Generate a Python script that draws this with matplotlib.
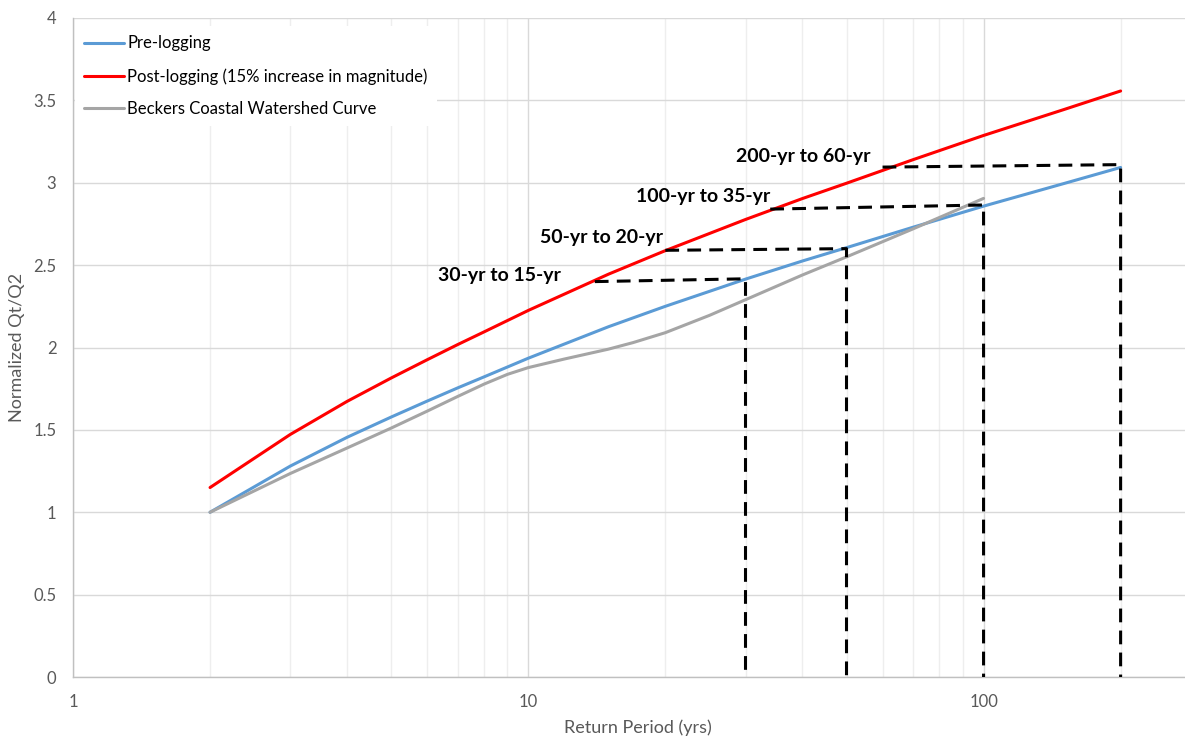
import numpy as np
import matplotlib.pyplot as plt
from matplotlib.ticker import FixedLocator, NullFormatter

plt.rcParams.update({
    'font.family': ['Lato', 'DejaVu Sans'],
    'font.size': 12,
})

# return periods (yrs)
periods = [2, 3, 4, 5, 6, 7, 8, 10, 15, 20, 30, 40, 50, 70, 100, 150, 200]
pre_logging = [1.00, 1.28, 1.455, 1.578, 1.675, 1.755, 1.822, 1.935, 2.126,
               2.25, 2.415, 2.525, 2.606, 2.73, 2.858, 2.995, 3.093]
post_logging = [1.15, 1.472, 1.673, 1.815, 1.926, 2.018, 2.095, 2.225, 2.445,
                2.588, 2.777, 2.904, 2.997, 3.14, 3.287, 3.444, 3.557]

beckers_periods = [2, 3, 4, 5, 6, 7, 8, 9, 10, 12, 15, 17, 20, 25, 30, 40, 50, 70, 100]
beckers = [1.00, 1.235, 1.39, 1.511, 1.614, 1.703, 1.778, 1.837, 1.878, 1.93,
           1.99, 2.03, 2.09, 2.195, 2.29, 2.44, 2.55, 2.72, 2.905]

# dashed guide lines: post-logging period -> pre-logging period, down to zero
guide_labels = ['30-yr to 15-yr', '50-yr to 20-yr', '100-yr to 35-yr', '200-yr to 60-yr']
guide_x = [[14, 30, 30], [20, 50, 50], [34, 100, 100], [60, 200, 200]]
guide_y = [[2.40, 2.417, 0], [2.59, 2.60, 0], [2.84, 2.865, 0], [3.095, 3.11, 0]]
label_x = [11.8, 19.8, 34.0, 56.5]
label_y = [2.435, 2.67, 2.915, 3.162]

grey_text = '#595959'

fig = plt.figure(figsize=(11.85, 7.4), dpi=100)
ax = fig.add_axes([73 / 1185, 63 / 740, 1130 / 1185, 659 / 740])

line_kw = dict(lw=2.2, solid_joinstyle='round', solid_capstyle='round', zorder=3)
ax.plot(periods, pre_logging, color='#5B9BD5', label='Pre-logging', **line_kw)
ax.plot(periods, post_logging, color='#FF0000',
        label='Post-logging (15% increase in magnitude)', **line_kw)
ax.plot(beckers_periods, beckers, color='#A5A5A5',
        label='Beckers Coastal Watershed Curve', **line_kw)

for gx, gy in zip(guide_x, guide_y):
    ax.plot(gx, gy, color='black', lw=2.2, dashes=(4.5, 2.7), zorder=4)
for txt, tx, ty in zip(guide_labels, label_x, label_y):
    ax.text(tx, ty, txt, ha='right', va='center', fontsize=14,
            fontweight='bold', color='black', zorder=5)

ax.set_xscale('log')
ax.set_xlim(1, 10 ** 2.482)
ax.set_ylim(0, 4)
ax.set_yticks(np.arange(0, 4.01, 0.5))
ax.set_yticklabels(['0', '0.5', '1', '1.5', '2', '2.5', '3', '3.5', '4'])
ax.xaxis.set_major_locator(FixedLocator([1, 10, 100]))
ax.set_xticklabels(['1', '10', '100'])
minor = [m * d for d in (1, 10, 100) for m in range(2, 10)]
ax.xaxis.set_minor_locator(FixedLocator(minor))
ax.xaxis.set_minor_formatter(NullFormatter())

ax.grid(True, which='major', color='#d9d9d9', lw=1.0, zorder=0)
ax.grid(True, which='minor', axis='x', color='#eeeeee', lw=1.0, zorder=0)
ax.set_axisbelow(True)

ax.tick_params(which='both', length=0, colors=grey_text, labelsize=12)
ax.tick_params(axis='y', pad=12)
ax.tick_params(axis='x', pad=12)
for side in ('top', 'right'):
    ax.spines[side].set_visible(False)
for side in ('left', 'bottom'):
    ax.spines[side].set_color('#c0c0c0')
    ax.spines[side].set_linewidth(1.0)

ax.set_xlabel('Return Period (yrs)', color=grey_text, fontsize=13, labelpad=7)
ax.set_ylabel('Normalized Qt/Q2', color=grey_text, fontsize=13, labelpad=6)

leg = ax.legend(loc='upper left', bbox_to_anchor=(0.0, 0.99), frameon=True,
                fancybox=False, edgecolor='none', facecolor='white', framealpha=1,
                handlelength=2.4, handletextpad=0.2, labelspacing=1.0,
                borderpad=0.55, borderaxespad=0.1, fontsize=12)
leg.set_zorder(6)

fig.savefig('out.png', dpi=100)
